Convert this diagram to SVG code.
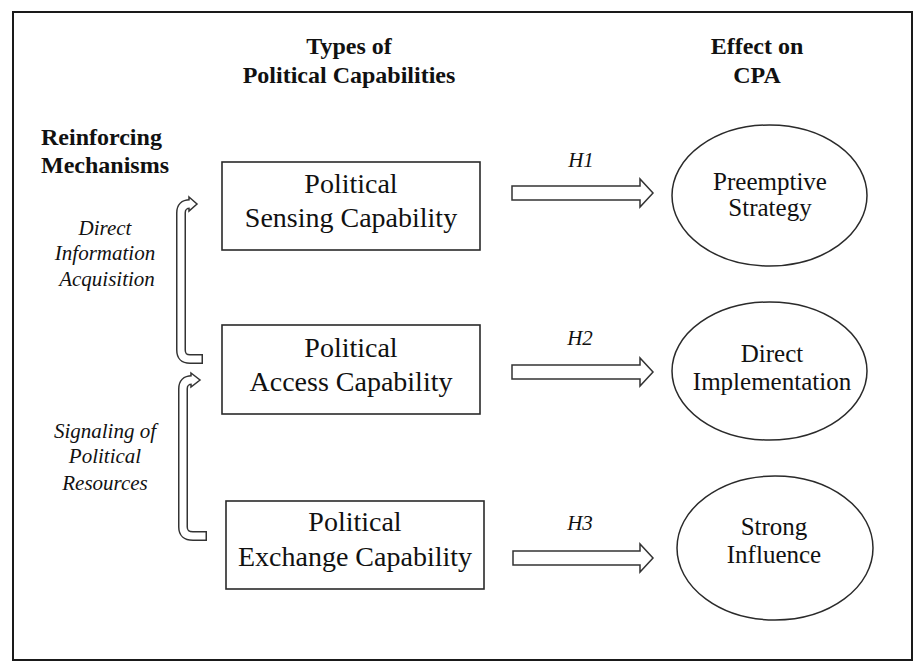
<svg xmlns="http://www.w3.org/2000/svg" width="916" height="667" viewBox="0 0 916 667">
  <style>
    .frame { fill: #fff; stroke: #1a1a1a; stroke-width: 2; }
    .box { fill: #fff; stroke: #2a2a2a; stroke-width: 1.6; }
    .oval { fill: #fff; stroke: #2a2a2a; stroke-width: 1.5; }
    .head { font-family: "Liberation Serif", "Times New Roman", serif; font-weight: bold; font-size: 24px; fill: #111; }
    .boxtxt { font-family: "Liberation Serif", "Times New Roman", serif; font-size: 28px; fill: #111; text-anchor: middle; }
    .ovaltxt { font-family: "Liberation Serif", "Times New Roman", serif; font-size: 25px; fill: #111; text-anchor: middle; }
    .ital { font-family: "Liberation Serif", "Times New Roman", serif; font-style: italic; font-size: 21px; fill: #111; text-anchor: middle; }
    .block { fill: #fff; stroke: #333; stroke-width: 1.5; stroke-linejoin: miter; }
    .band-out { fill: none; stroke: #333; stroke-width: 10; stroke-linecap: butt; }
    .band-in { fill: none; stroke: #fff; stroke-width: 7; stroke-linecap: butt; }
  </style>

  <!-- outer frame -->
  <rect class="frame" x="13" y="12" width="899" height="648"/>

  <!-- column headings -->
  <g id="heading-types">
    <text class="head" x="349" y="54" text-anchor="middle">Types of</text>
    <text class="head" x="349" y="83" text-anchor="middle">Political Capabilities</text>
  </g>
  <g id="heading-effect">
    <text class="head" x="757" y="54" text-anchor="middle">Effect on</text>
    <text class="head" x="757" y="83" text-anchor="middle">CPA</text>
  </g>
  <g id="heading-mechanisms">
    <text class="head" x="41" y="145">Reinforcing</text>
    <text class="head" x="41" y="173">Mechanisms</text>
  </g>

  <!-- mechanism labels -->
  <g id="label-direct-info">
    <text class="ital" x="105" y="235">Direct</text>
    <text class="ital" x="105" y="260">Information</text>
    <text class="ital" x="107" y="286">Acquisition</text>
  </g>
  <g id="label-signaling">
    <text class="ital" x="105" y="438">Signaling of</text>
    <text class="ital" x="105" y="463">Political</text>
    <text class="ital" x="105" y="490">Resources</text>
  </g>

  <!-- capability boxes -->
  <g id="sensing">
    <rect class="box" x="222" y="162" width="258" height="88"/>
    <text class="boxtxt" x="351" y="193">Political</text>
    <text class="boxtxt" x="351" y="227">Sensing Capability</text>
  </g>
  <g id="access">
    <rect class="box" x="222" y="325" width="258" height="89"/>
    <text class="boxtxt" x="351" y="357">Political</text>
    <text class="boxtxt" x="351" y="391">Access Capability</text>
  </g>
  <g id="exchange">
    <rect class="box" x="226" y="501" width="258" height="88"/>
    <text class="boxtxt" x="355" y="531">Political</text>
    <text class="boxtxt" x="355" y="566">Exchange Capability</text>
  </g>

  <!-- outcome ovals -->
  <g id="preemptive">
    <ellipse class="oval" cx="769.5" cy="195.5" rx="97.5" ry="70.5"/>
    <text class="ovaltxt" x="770" y="190">Preemptive</text>
    <text class="ovaltxt" x="770" y="216">Strategy</text>
  </g>
  <g id="implementation">
    <ellipse class="oval" cx="769.5" cy="371" rx="97.5" ry="69"/>
    <text class="ovaltxt" x="772" y="362">Direct</text>
    <text class="ovaltxt" x="772" y="390">Implementation</text>
  </g>
  <g id="influence">
    <ellipse class="oval" cx="775" cy="548" rx="98" ry="72"/>
    <text class="ovaltxt" x="774" y="535">Strong</text>
    <text class="ovaltxt" x="774" y="563">Influence</text>
  </g>

  <!-- connectors -->
  <g id="connectors">
    <!-- hypothesis block arrows -->
    <polygon class="block" points="512,186 640,186 640,179 653,193 640,207 640,200 512,200"/>
    <text class="ital" x="581" y="167">H1</text>
    <polygon class="block" points="512,365 640,365 640,358 653,372 640,386 640,379 512,379"/>
    <text class="ital" x="580" y="345">H2</text>
    <polygon class="block" points="513,551 640,551 640,544 653,558 640,572 640,565 513,565"/>
    <text class="ital" x="580" y="530">H3</text>

    <!-- access to sensing: hollow curved arrow -->
    <path class="band-out" d="M203,359 H190 Q181,359 181,350 V213 Q181,204 190,204"/>
    <polygon class="block" points="189,197 197,204 189,211"/>
    <path class="band-in" d="M201.5,359 H190 Q181,359 181,350 V213 Q181,204 190,204 H191.5"/>

    <!-- exchange to access: hollow curved arrow -->
    <path class="band-out" d="M207,536 H193 Q183,536 183,527 V389 Q183,380 192,380"/>
    <polygon class="block" points="191,373 200,380 191,387"/>
    <path class="band-in" d="M205.5,536 H193 Q183,536 183,527 V389 Q183,380 192,380 H193.5"/>
  </g>
</svg>
